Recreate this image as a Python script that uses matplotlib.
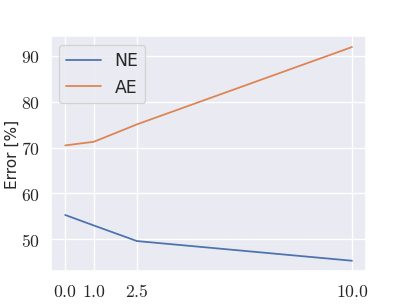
import matplotlib
matplotlib.use("Agg")
import matplotlib.pyplot as plt
import seaborn as sns

sns.set_theme(context="talk", style="darkgrid")
plt.rcParams["mathtext.fontset"] = "cm"

# data
lambdas = [0.0, 1.0, 2.5, 10.0]
ne_error = [55.3, 53.0, 49.6, 45.3]
ae_error = [70.5, 71.3, 75.1, 92.0]
yticks = [50, 60, 70, 80, 90]

fig, ax = plt.subplots(figsize=(6.4, 4.8), dpi=63.6)

ax.plot(lambdas, ne_error, label="NE", linewidth=2.0)
ax.plot(lambdas, ae_error, label="AE", linewidth=2.0)

ax.set_xticks(lambdas)
ax.set_xticklabels([f"${v:.1f}$" for v in lambdas], fontsize=20)
ax.set_yticks(yticks)
ax.set_yticklabels([f"${v}$" for v in yticks], fontsize=20)

ax.set_xlabel(r"$\lambda$", fontsize=20)
ax.set_ylabel("Error [%]", fontsize=17.5, labelpad=1)
ax.legend(loc="upper left", fontsize=19.5)

fig.savefig("out.png", dpi=63.6)
